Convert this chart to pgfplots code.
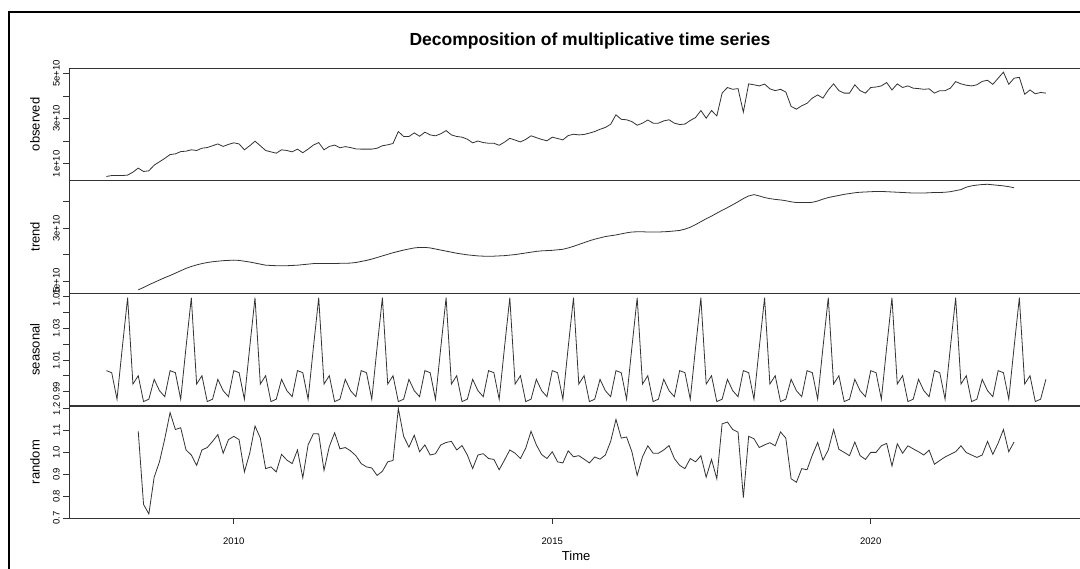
\documentclass[border=0pt]{standalone}
\usepackage{fontspec}
\setmainfont{Liberation Sans}
\usepackage{pgfplots}
\usepackage{pgfplotstable}
\pgfplotsset{compat=1.18}

% monthly values, observed in units of 1e10, Jan 2008 - Oct 2022
\pgfplotstableread[row sep=\\]{v\\
0.44\\0.48\\0.48\\0.48\\0.50\\0.63\\0.81\\0.66\\0.69\\0.94\\1.09\\1.24\\
1.41\\1.44\\1.54\\1.56\\1.62\\1.59\\1.69\\1.72\\1.80\\1.88\\1.77\\1.86\\
1.93\\1.88\\1.62\\1.80\\2.00\\1.80\\1.59\\1.53\\1.47\\1.62\\1.59\\1.53\\
1.65\\1.49\\1.65\\1.83\\1.94\\1.62\\1.77\\1.83\\1.71\\1.76\\1.72\\1.66\\
1.65\\1.65\\1.65\\1.69\\1.80\\1.84\\1.90\\2.43\\2.21\\2.21\\2.37\\2.22\\
2.40\\2.28\\2.24\\2.33\\2.47\\2.28\\2.21\\2.18\\2.09\\1.93\\2.01\\1.94\\
1.91\\1.91\\1.82\\1.96\\2.13\\2.05\\1.97\\2.08\\2.24\\2.16\\2.08\\2.02\\
2.18\\2.12\\2.06\\2.25\\2.31\\2.28\\2.30\\2.36\\2.43\\2.53\\2.61\\2.75\\
3.17\\2.97\\2.95\\2.87\\2.71\\2.80\\2.94\\2.80\\2.80\\2.90\\2.95\\2.80\\
2.74\\2.76\\2.92\\3.05\\3.36\\3.02\\3.36\\3.12\\4.13\\4.38\\4.30\\4.33\\
3.29\\4.54\\4.50\\4.45\\4.53\\4.32\\4.24\\4.30\\4.18\\3.54\\3.42\\3.57\\
3.68\\3.91\\4.05\\3.91\\4.27\\4.54\\4.24\\4.13\\4.13\\4.50\\4.24\\4.13\\
4.38\\4.40\\4.45\\4.60\\4.27\\4.54\\4.38\\4.45\\4.35\\4.33\\4.30\\4.32\\
4.13\\4.24\\4.24\\4.35\\4.64\\4.54\\4.48\\4.45\\4.50\\4.65\\4.70\\4.52\\
4.79\\5.06\\4.52\\4.79\\4.83\\4.08\\4.27\\4.10\\4.16\\4.13\\
}\observed

% trend, Jul 2008 - Apr 2022
\pgfplotstableread[row sep=\\]{v\\
0.68\\0.77\\0.87\\0.96\\1.05\\1.14\\
1.22\\1.31\\1.40\\1.49\\1.56\\1.62\\1.67\\1.71\\1.74\\1.76\\1.78\\1.79\\
1.80\\1.79\\1.76\\1.73\\1.69\\1.65\\1.61\\1.60\\1.59\\1.59\\1.59\\1.60\\
1.61\\1.63\\1.65\\1.67\\1.67\\1.67\\1.67\\1.67\\1.68\\1.68\\1.69\\1.71\\
1.75\\1.79\\1.84\\1.90\\1.96\\2.02\\2.08\\2.13\\2.18\\2.22\\2.26\\2.28\\
2.28\\2.26\\2.22\\2.18\\2.14\\2.10\\2.06\\2.03\\2.00\\1.98\\1.96\\1.95\\
1.95\\1.95\\1.96\\1.97\\1.99\\2.01\\2.04\\2.07\\2.10\\2.13\\2.15\\2.16\\
2.17\\2.19\\2.21\\2.26\\2.32\\2.39\\2.46\\2.53\\2.59\\2.64\\2.69\\2.72\\
2.75\\2.79\\2.83\\2.86\\2.87\\2.87\\2.86\\2.86\\2.86\\2.87\\2.88\\2.90\\
2.92\\2.97\\3.04\\3.14\\3.25\\3.36\\3.46\\3.57\\3.68\\3.78\\3.89\\4.00\\
4.12\\4.22\\4.27\\4.22\\4.16\\4.12\\4.09\\4.07\\4.04\\4.00\\3.97\\3.97\\
3.97\\3.98\\4.03\\4.10\\4.16\\4.20\\4.24\\4.28\\4.31\\4.34\\4.36\\4.37\\
4.38\\4.39\\4.39\\4.38\\4.37\\4.36\\4.35\\4.34\\4.33\\4.33\\4.33\\4.34\\
4.35\\4.35\\4.36\\4.38\\4.42\\4.46\\4.55\\4.60\\4.63\\4.65\\4.66\\4.64\\
4.62\\4.60\\4.57\\4.53\\
}\trend

% seasonal, Jan 2008 - Oct 2022
\pgfplotstableread[row sep=\\]{v\\
1.0033\\1.0020\\0.9852\\1.0180\\1.0495\\0.9948\\1.0001\\0.9837\\0.9852\\0.9978\\0.9906\\0.9868\\
1.0033\\1.0020\\0.9852\\1.0180\\1.0495\\0.9948\\1.0001\\0.9837\\0.9852\\0.9978\\0.9906\\0.9868\\
1.0033\\1.0020\\0.9852\\1.0180\\1.0495\\0.9948\\1.0001\\0.9837\\0.9852\\0.9978\\0.9906\\0.9868\\
1.0033\\1.0020\\0.9852\\1.0180\\1.0495\\0.9948\\1.0001\\0.9837\\0.9852\\0.9978\\0.9906\\0.9868\\
1.0033\\1.0020\\0.9852\\1.0180\\1.0495\\0.9948\\1.0001\\0.9837\\0.9852\\0.9978\\0.9906\\0.9868\\
1.0033\\1.0020\\0.9852\\1.0180\\1.0495\\0.9948\\1.0001\\0.9837\\0.9852\\0.9978\\0.9906\\0.9868\\
1.0033\\1.0020\\0.9852\\1.0180\\1.0495\\0.9948\\1.0001\\0.9837\\0.9852\\0.9978\\0.9906\\0.9868\\
1.0033\\1.0020\\0.9852\\1.0180\\1.0495\\0.9948\\1.0001\\0.9837\\0.9852\\0.9978\\0.9906\\0.9868\\
1.0033\\1.0020\\0.9852\\1.0180\\1.0495\\0.9948\\1.0001\\0.9837\\0.9852\\0.9978\\0.9906\\0.9868\\
1.0033\\1.0020\\0.9852\\1.0180\\1.0495\\0.9948\\1.0001\\0.9837\\0.9852\\0.9978\\0.9906\\0.9868\\
1.0033\\1.0020\\0.9852\\1.0180\\1.0495\\0.9948\\1.0001\\0.9837\\0.9852\\0.9978\\0.9906\\0.9868\\
1.0033\\1.0020\\0.9852\\1.0180\\1.0495\\0.9948\\1.0001\\0.9837\\0.9852\\0.9978\\0.9906\\0.9868\\
1.0033\\1.0020\\0.9852\\1.0180\\1.0495\\0.9948\\1.0001\\0.9837\\0.9852\\0.9978\\0.9906\\0.9868\\
1.0033\\1.0020\\0.9852\\1.0180\\1.0495\\0.9948\\1.0001\\0.9837\\0.9852\\0.9978\\0.9906\\0.9868\\
1.0033\\1.0020\\0.9852\\1.0180\\1.0495\\0.9948\\1.0001\\0.9837\\0.9852\\0.9978\\
}\seasonal

% random, Jul 2008 - Apr 2022
\pgfplotstableread[row sep=\\]{v\\
1.096\\0.763\\0.720\\0.887\\0.957\\1.062\\1.181\\1.104\\1.112\\1.011\\0.988\\0.941\\
1.011\\1.022\\1.050\\1.081\\0.996\\1.058\\1.073\\1.058\\0.911\\0.996\\1.120\\1.065\\
0.926\\0.934\\0.911\\0.991\\0.965\\0.949\\1.011\\0.884\\1.034\\1.085\\1.084\\0.918\\
1.027\\1.089\\1.016\\1.022\\1.007\\0.985\\0.949\\0.934\\0.929\\0.895\\0.914\\0.957\\
0.963\\1.200\\1.073\\1.024\\1.078\\1.003\\1.034\\0.988\\0.994\\1.034\\1.045\\1.050\\
1.011\\1.031\\0.988\\0.926\\0.988\\0.994\\0.972\\0.968\\0.921\\0.965\\1.011\\0.996\\
0.972\\1.019\\1.096\\1.034\\0.990\\0.972\\1.003\\0.957\\0.952\\1.007\\0.980\\0.985\\
0.969\\0.952\\0.979\\0.969\\0.988\\1.050\\1.150\\1.065\\1.070\\1.003\\0.895\\0.980\\
1.030\\0.996\\0.996\\1.011\\1.031\\0.972\\0.941\\0.926\\0.972\\0.957\\0.985\\0.887\\
0.968\\0.880\\1.130\\1.138\\1.104\\1.092\\0.794\\1.073\\1.062\\1.022\\1.034\\1.044\\
1.030\\1.093\\1.065\\0.880\\0.864\\0.926\\0.921\\0.988\\1.045\\0.965\\1.011\\1.104\\
1.014\\1.000\\0.985\\1.047\\0.985\\0.968\\1.000\\1.000\\1.030\\1.041\\0.938\\1.039\\
0.996\\1.030\\1.016\\1.003\\0.988\\1.010\\0.946\\0.963\\0.979\\0.991\\1.003\\1.030\\
0.999\\0.988\\0.977\\0.988\\1.050\\0.991\\1.042\\1.104\\1.003\\1.047\\
}\random

\pgfplotsset{
  panel/.style={
    scale only axis,
    width=1014.3pt,
    xmin=2007.413, xmax=2023.337,
    axis line style={draw=black!80, line width=1pt},
    tick style={draw=black!80, line width=0.9pt},
    tick align=outside,
    major tick length=5.7pt,
    tick pos=left,
    xtick=\empty,
    yticklabel style={rotate=90, anchor=south, font=\fontsize{9.5}{9.5}\selectfont},
    every axis y label/.style={at={(axis description cs:-0.0335,0.5)}, rotate=90, anchor=center, font=\fontsize{13}{13}\selectfont},
  },
  series/.style={draw=black!80, line width=0.8pt, mark=none},
}

\begin{document}
\begin{tikzpicture}[x=1pt, y=1pt]
\path[use as bounding box] (0pt,0pt) rectangle (1080pt,-569pt);
\clip (0pt,0pt) rectangle (1080pt,-569pt);
\fill[white] (0pt,0pt) rectangle (1080pt,-569pt);
\draw[black, line width=2pt] (9pt,-700pt) -- (9pt,-11.7pt) -- (1200pt,-11.7pt);

\node[font=\bfseries\fontsize{17.5}{17.5}\selectfont] at (590pt,-41pt) {Decomposition of multiplicative time series};

\begin{axis}[panel, at={(69pt,-68.3pt)}, anchor=north west, height=112pt,
  ymin=0.27, ymax=5.23, ytick={1,2,3,4,5}, yticklabels={1e+10,,3e+10,,5e+10},
  ylabel={observed}]
\addplot[series] table[x expr={2008+\coordindex/12}, y=v] {\observed};
\end{axis}

\begin{axis}[panel, at={(69pt,-180.3pt)}, anchor=north west, height=113pt,
  ymin=0.55, ymax=4.81, ytick={1,2,3,4}, yticklabels={1e+10,,3e+10,},
  ylabel={trend}]
\addplot[series] table[x expr={2008.5+\coordindex/12}, y=v] {\trend};
\end{axis}

\begin{axis}[panel, at={(69pt,-293.3pt)}, anchor=north west, height=112.7pt,
  ymin=0.9809, ymax=1.0523, ytick={0.99,1.00,1.01,1.02,1.03,1.04,1.05},
  yticklabels={0.99,,1.01,,1.03,,1.05},
  ylabel={seasonal}]
\addplot[series] table[x expr={2008+\coordindex/12}, y=v] {\seasonal};
\end{axis}

\begin{axis}[panel, at={(69pt,-406pt)}, anchor=north west, height=112.3pt,
  ymin=0.70, ymax=1.211, ytick={0.7,0.8,0.9,1.0,1.1,1.2},
  yticklabels={0.7,0.8,0.9,1.0,1.1,1.2},
  xtick={2010,2015,2020}, xticklabels={2010,2015,2020},
  xticklabel style={font=\fontsize{9.5}{9.5}\selectfont, yshift=-10pt},
  xlabel={Time},
  every axis x label/.style={at={(axis description cs:0.5,0)}, anchor=center, yshift=-38pt, font=\fontsize{13}{13}\selectfont},
  ylabel={random}]
\addplot[series] table[x expr={2008.5+\coordindex/12}, y=v] {\random};
\end{axis}
\end{tikzpicture}
\end{document}
